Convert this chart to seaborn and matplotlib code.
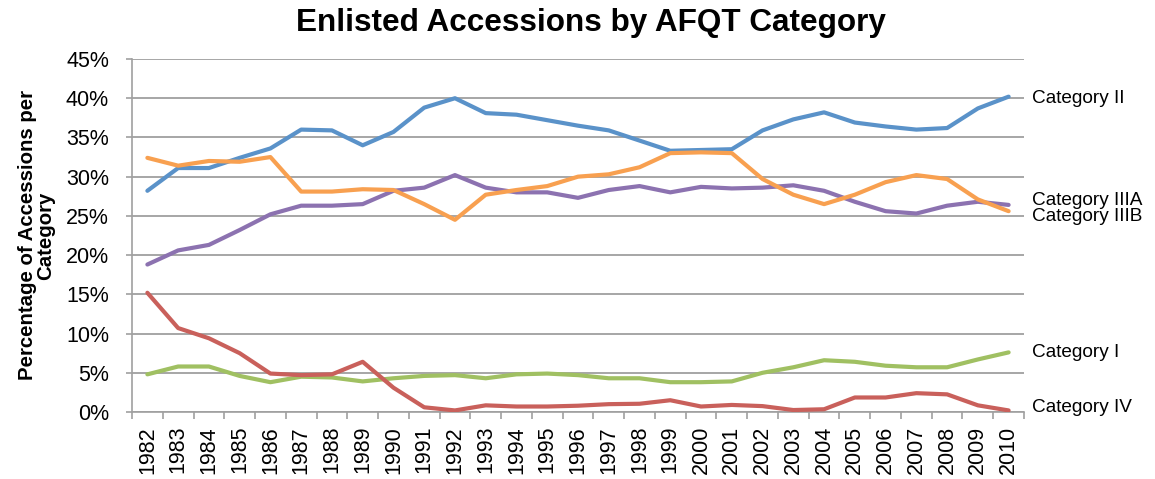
import matplotlib
matplotlib.use("Agg")
import matplotlib.pyplot as plt
import seaborn as sns
import pandas as pd
from matplotlib.ticker import FixedLocator, PercentFormatter

years = list(range(1982, 2011))
cat_ii = [28.2, 31.1, 31.1, 32.4, 33.6, 36.0, 35.9, 34.0, 35.7, 38.8,
          40.0, 38.1, 37.9, 37.2, 36.5, 35.9, 34.6, 33.3, 33.4, 33.5,
          35.9, 37.3, 38.2, 36.9, 36.4, 36.0, 36.2, 38.7, 40.2]
cat_iiia = [18.8, 20.6, 21.3, 23.2, 25.2, 26.3, 26.3, 26.5, 28.2, 28.6,
            30.2, 28.6, 28.0, 28.0, 27.3, 28.3, 28.8, 28.0, 28.7, 28.5,
            28.6, 28.9, 28.2, 26.8, 25.6, 25.3, 26.3, 26.8, 26.4]
cat_iiib = [32.4, 31.4, 32.0, 31.9, 32.5, 28.1, 28.1, 28.4, 28.3, 26.5,
            24.5, 27.7, 28.3, 28.8, 30.0, 30.3, 31.2, 33.0, 33.1, 33.0,
            29.7, 27.7, 26.5, 27.7, 29.3, 30.2, 29.7, 27.1, 25.6]
cat_i = [4.8, 5.8, 5.8, 4.6, 3.8, 4.5, 4.4, 3.9, 4.3, 4.6,
         4.7, 4.3, 4.8, 4.9, 4.7, 4.3, 4.3, 3.8, 3.8, 3.9,
         5.0, 5.7, 6.6, 6.4, 5.9, 5.7, 5.7, 6.7, 7.6]
cat_iv = [15.2, 10.7, 9.4, 7.5, 4.9, 4.7, 4.8, 6.4, 3.1, 0.6,
          0.2, 0.85, 0.7, 0.7, 0.8, 1.0, 1.05, 1.5, 0.7, 0.9,
          0.75, 0.25, 0.35, 1.85, 1.85, 2.4, 2.25, 0.85, 0.2]

series = {
    "Category II": cat_ii,
    "Category IIIA": cat_iiia,
    "Category IIIB": cat_iiib,
    "Category I": cat_i,
    "Category IV": cat_iv,
}
colors = {
    "Category II": "#5A92C9",
    "Category IIIA": "#8C72B0",
    "Category IIIB": "#F8A050",
    "Category I": "#A0C062",
    "Category IV": "#C9605B",
}
# label offsets (in points) to avoid overlapping end labels
label_dy = {"Category II": -1.5, "Category IIIA": 3.0, "Category IIIB": -3.5,
            "Category I": 0, "Category IV": 2.0}

rows = []
for name, vals in series.items():
    for i, (y, v) in enumerate(zip(years, vals)):
        rows.append({"pos": i, "year": y, "value": v, "category": name})
df = pd.DataFrame(rows)

sns.set_theme(style="white")
plt.rcParams["font.family"] = ["Liberation Sans", "DejaVu Sans"]
plt.rcParams["text.color"] = "black"
plt.rcParams["axes.labelcolor"] = "black"

fig = plt.figure(figsize=(11.55, 4.79), dpi=100)
ax = fig.add_axes([132 / 1155, 1 - 412 / 479, (1024 - 132) / 1155, (412 - 59) / 479])

sns.lineplot(data=df, x="pos", y="value", hue="category", palette=colors,
             linewidth=3.0, legend=False, ax=ax, zorder=3)

ax.set_xlim(-0.5, len(years) - 0.5)
ax.set_ylim(0, 45)
ax.set_yticks(range(0, 46, 5))
ax.yaxis.set_major_formatter(PercentFormatter(decimals=0))
ax.set_xticks(range(len(years)))
ax.set_xticklabels([str(y) for y in years], rotation=90)
ax.xaxis.set_minor_locator(FixedLocator([i - 0.5 for i in range(len(years) + 1)]))

ax.grid(axis="y", color="#A6A6A6", linewidth=1.4)
ax.set_axisbelow(True)
for s in ["top", "right"]:
    ax.spines[s].set_visible(False)
for s in ["left", "bottom"]:
    ax.spines[s].set_color("#A0A0A0")
    ax.spines[s].set_linewidth(1.2)

ax.tick_params(axis="x", which="major", length=0, labelsize=15.5, pad=10, labelcolor="black")
ax.tick_params(axis="x", which="minor", length=5, width=1.2, color="#A0A0A0", direction="out")
ax.tick_params(axis="y", which="major", length=4.5, width=1.2, color="#A0A0A0",
               direction="out", labelsize=15.5, pad=12, labelcolor="black")
ax.tick_params(bottom=True, left=True, which="both")

ax.set_xlabel("")
ax.set_ylabel("Percentage of Accessions per\nCategory", fontsize=14.7, fontweight="bold",
              labelpad=8, linespacing=0.95, color="black")

for name, vals in series.items():
    ax.annotate(name, xy=(len(years) - 1, vals[-1]), xytext=(17, label_dy[name]),
                textcoords="offset points", va="center", ha="left", fontsize=13.7,
                color="black", annotation_clip=False)

fig.suptitle("Enlisted Accessions by AFQT Category", fontsize=22.7, fontweight="bold",
             x=591 / 1155, y=1 - 23 / 479, va="center", color="black")

fig.savefig("out.png", dpi=100)
